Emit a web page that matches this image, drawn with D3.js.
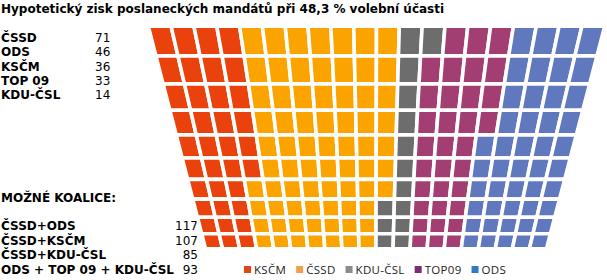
<!DOCTYPE html>
<html>
<head>
<meta charset="utf-8">
<script src="https://cdn.jsdelivr.net/npm/d3@7"></script>
<style>
  body { margin: 0; background: #fff; }
  svg { display: block; }
  .txt { font-family: "DejaVu Sans", Verdana, sans-serif; font-size: 12px; fill: #000; }
  .bold { font-weight: bold; }
  .legend text { font-family: "Open Sans", sans-serif; font-size: 11.5px; letter-spacing: 0.3px; fill: #222; }
</style>
</head>
<body>
<div class="chart"></div>
<script>
var svgWidth = 607;
var svgHeight = 280;

// parties in seat order, left to right
var parties = ["KSČM", "ČSSD", "KDU-ČSL", "TOP09", "ODS"];
var seatColors = ["#e9420c", "#fba400", "#6d6d6d", "#a23e72", "#5f78be"];
var legendColors = ["#e24812", "#f2a048", "#8c8c8c", "#7a2e78", "#2f7bc4"];

// seats per row (top to bottom) for each party
var rowsKSCM = [4, 4, 4, 4, 4, 4, 3, 3, 3, 3];
var rowsCSSD = [7, 7, 7, 7, 7, 7, 8, 7, 7, 7];
var rowsKDU = [2, 1, 1, 1, 1, 1, 1, 2, 2, 2];
var rowsTOP = [3, 4, 4, 4, 3, 3, 3, 3, 3, 3];
var rowsODS = [4, 4, 4, 4, 5, 5, 5, 5, 5, 5];

// table on the left
var resultNames = ["ČSSD", "ODS", "KSČM", "TOP 09", "KDU-ČSL"];
var resultSeats = [71, 46, 36, 33, 14];
var coalitionNames = ["ČSSD+ODS", "ČSSD+KSČM", "ČSSD+KDU-ČSL", "ODS + TOP 09 + KDU-ČSL"];
var coalitionSeats = [117, 107, 85, 93];

var title = "Hypotetický zisk poslaneckých mandátů při 48,3 % volební účasti";

var svg = d3
  .select(".chart")
  .append("svg")
  .attr("width", svgWidth)
  .attr("height", svgHeight);

// title
svg.append("text")
  .attr("class", "txt bold")
  .attr("x", 1)
  .attr("y", 13)
  .text(title);

// results list
var listY = d3.scaleLinear().domain([0, 1]).range([41.7, 56.1]);

svg.selectAll(".resName")
  .data(resultNames)
  .enter()
  .append("text")
  .attr("class", "txt bold")
  .attr("x", 1)
  .attr("y", (d, i) => listY(i))
  .text((d) => d);

svg.selectAll(".resSeats")
  .data(resultSeats)
  .enter()
  .append("text")
  .attr("class", "txt")
  .attr("x", 95)
  .attr("y", (d, i) => listY(i))
  .text((d) => d);

svg.append("text")
  .attr("class", "txt bold")
  .attr("x", 1)
  .attr("y", 201.5)
  .text("MOŽNÉ KOALICE:");

var coalY = d3.scaleLinear().domain([0, 1]).range([230, 244.5]);

svg.selectAll(".coalName")
  .data(coalitionNames)
  .enter()
  .append("text")
  .attr("class", "txt bold")
  .attr("x", 1)
  .attr("y", (d, i) => coalY(i))
  .text((d) => d);

svg.selectAll(".coalSeats")
  .data(coalitionSeats)
  .enter()
  .append("text")
  .attr("class", "txt")
  .attr("x", 198)
  .attr("y", (d, i) => coalY(i))
  .attr("text-anchor", "end")
  .text((d) => d);

// seat grid: 10 rows x 20 columns in perspective
var nRows = 10, nCols = 20;
var gridTop = 26.3, gridBottom = 248.7;

// row pitch shrinks toward the bottom
var pitch = d3.scaleLinear().domain([0, nRows - 1]).range([29.6, 14.88]);
var rowEdges = [gridTop];
for (var r = 0; r < nRows; r++) rowEdges.push(rowEdges[r] + pitch(r));

var xLeft = d3.scaleLinear().domain([gridTop, gridBottom]).range([148.3, 205.5]);
var xRight = d3.scaleLinear().domain([gridTop, gridBottom]).range([604.7, 546.5]);

function colX(j, y) {
  return d3.scaleLinear().domain([0, nCols]).range([xLeft(y), xRight(y)])(j);
}

var rowSeries = [rowsKSCM, rowsCSSD, rowsKDU, rowsTOP, rowsODS];
var cells = [];
for (var r = 0; r < nRows; r++) {
  var col = 0;
  rowSeries.forEach((series, p) => {
    for (var k = 0; k < series[r]; k++) {
      cells.push({ row: r, col: col, party: p });
      col++;
    }
  });
}

var gridGroup = svg.append("g");

gridGroup.selectAll("polygon")
  .data(cells)
  .enter()
  .append("polygon")
  .attr("points", (d) => {
    var y0 = rowEdges[d.row], y1 = rowEdges[d.row + 1];
    return [
      [colX(d.col, y0), y0],
      [colX(d.col + 1, y0), y0],
      [colX(d.col + 1, y1), y1],
      [colX(d.col, y1), y1],
    ].join(" ");
  })
  .attr("fill", (d) => seatColors[d.party])
  .attr("stroke", "#fff")
  .attr("stroke-width", 3.6)
  .attr("stroke-linejoin", "miter");

// legend
var legend = svg.append("g").attr("class", "legend");
var lx = 244;
parties.forEach((name, i) => {
  legend.append("rect")
    .attr("x", lx)
    .attr("y", 266)
    .attr("width", 7)
    .attr("height", 7)
    .attr("fill", legendColors[i]);
  var t = legend.append("text")
    .attr("x", lx + 10)
    .attr("y", 273.5)
    .text(name);
  lx += 10 + t.node().getComputedTextLength() + 10;
});
</script>
</body>
</html>
